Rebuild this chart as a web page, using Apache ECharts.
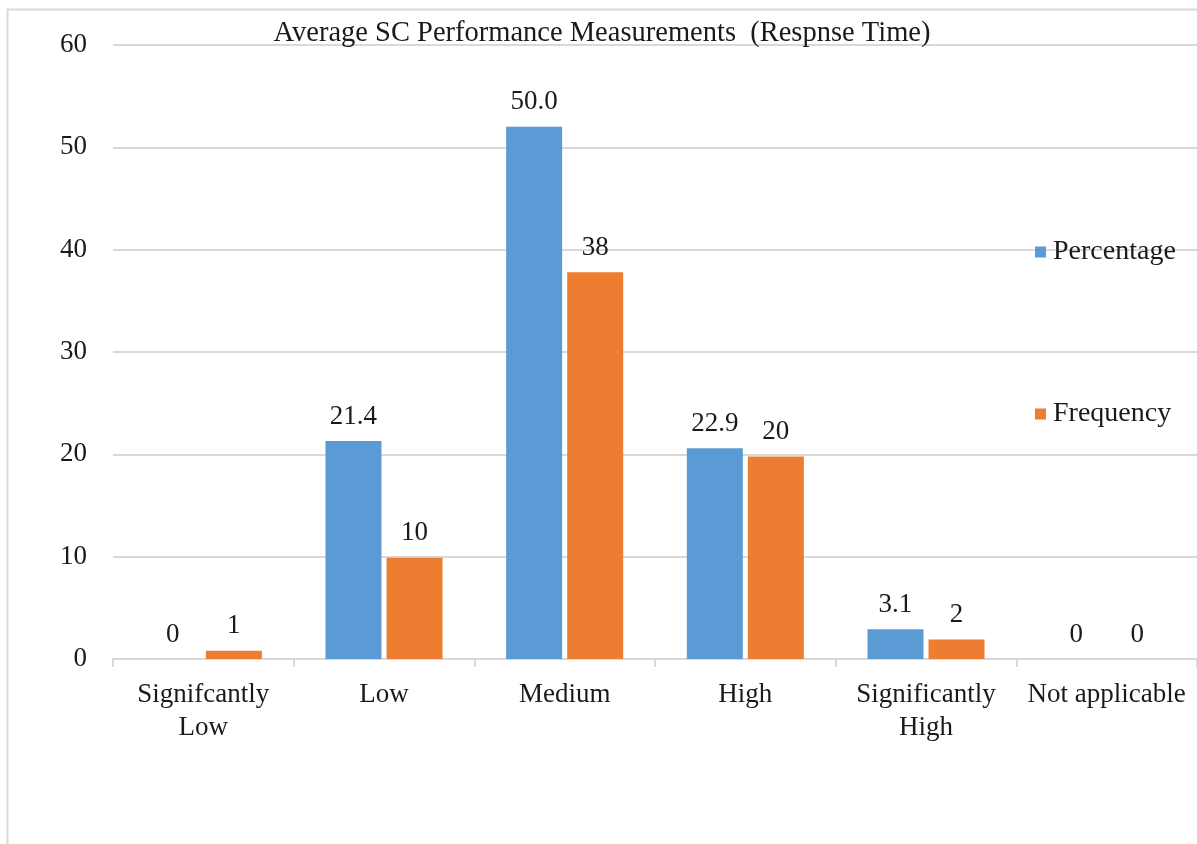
<!DOCTYPE html>
<html><head><meta charset="utf-8">
<script src="https://cdn.jsdelivr.net/npm/echarts@6/dist/echarts.min.js"></script>
<style>html,body{margin:0;padding:0;background:#fff}#c{width:1197px;height:844px}</style>
</head><body><div id="c"></div>
<script>
const categories = ['Signifcantly\nLow', 'Low', 'Medium', 'High', 'Significantly\nHigh', 'Not applicable'];
const percentage = [0, 21.3, 52, 20.6, 2.9, 0];
const frequency = [0.8, 9.9, 37.8, 19.8, 1.9, 0];
const percentageLabels = ['0', '21.4', '50.0', '22.9', '3.1', '0'];
const frequencyLabels = ['1', '10', '38', '20', '2', '0'];
const yTicks = [0, 10, 20, 30, 40, 50, 60];

const font = 'Liberation Serif';
const fs = 27;
const chart = echarts.init(document.getElementById('c'));
chart.setOption({
  animation: false,
  textStyle: { fontFamily: font },
  title: {
    text: 'Average SC Performance Measurements  (Respnse Time)',
    left: 597, top: 14, textAlign: 'center',
    textStyle: { fontFamily: font, fontSize: 28.5, fontWeight: 'normal', color: '#1a1a1a' }
  },
  graphic: [{
    type: 'rect', silent: true,
    shape: { x: 7.5, y: 9.5, width: 1400, height: 1000 },
    style: { fill: 'none', stroke: '#d9d9d9', lineWidth: 2 }
  }],
  legend: {
    orient: 'vertical', left: 1030, top: 233, itemGap: 134,
    itemWidth: 11, itemHeight: 11, icon: 'rect',
    textStyle: { fontFamily: font, fontSize: 28, color: '#1a1a1a', padding: [0, 0, 0, 2] },
    data: ['Percentage', 'Frequency']
  },
  grid: { left: 113, right: 0, top: 45, bottom: 185 },
  xAxis: {
    type: 'category', data: categories,
    axisLine: { lineStyle: { color: '#d9d9d9', width: 2 } },
    axisTick: { show: true, length: 8, lineStyle: { color: '#d9d9d9', width: 2 } },
    axisLabel: { fontFamily: font, fontSize: fs, color: '#1a1a1a', margin: 19, lineHeight: 33, interval: 0 }
  },
  yAxis: {
    type: 'value', min: 0, max: 60, interval: 10,
    axisLine: { show: false }, axisTick: { show: false },
    splitLine: { lineStyle: { color: '#d9d9d9', width: 2 } },
    axisLabel: { fontFamily: font, fontSize: fs, color: '#1a1a1a', margin: 26,
      formatter: v => yTicks.includes(v) ? String(v) : '' }
  },
  series: [{
    name: 'Percentage', type: 'bar', data: percentage,
    barWidth: '31%', barGap: '9%',
    itemStyle: { color: '#5b9bd5' },
    label: { show: true, position: 'top', distance: 11, fontFamily: font, fontSize: fs, color: '#1a1a1a',
      formatter: p => percentageLabels[p.dataIndex] }
  }, {
    name: 'Frequency', type: 'bar', data: frequency,
    barWidth: '31%',
    itemStyle: { color: '#ed7d31' },
    label: { show: true, position: 'top', distance: 11, fontFamily: font, fontSize: fs, color: '#1a1a1a',
      formatter: p => frequencyLabels[p.dataIndex] }
  }]
});
</script></body></html>
